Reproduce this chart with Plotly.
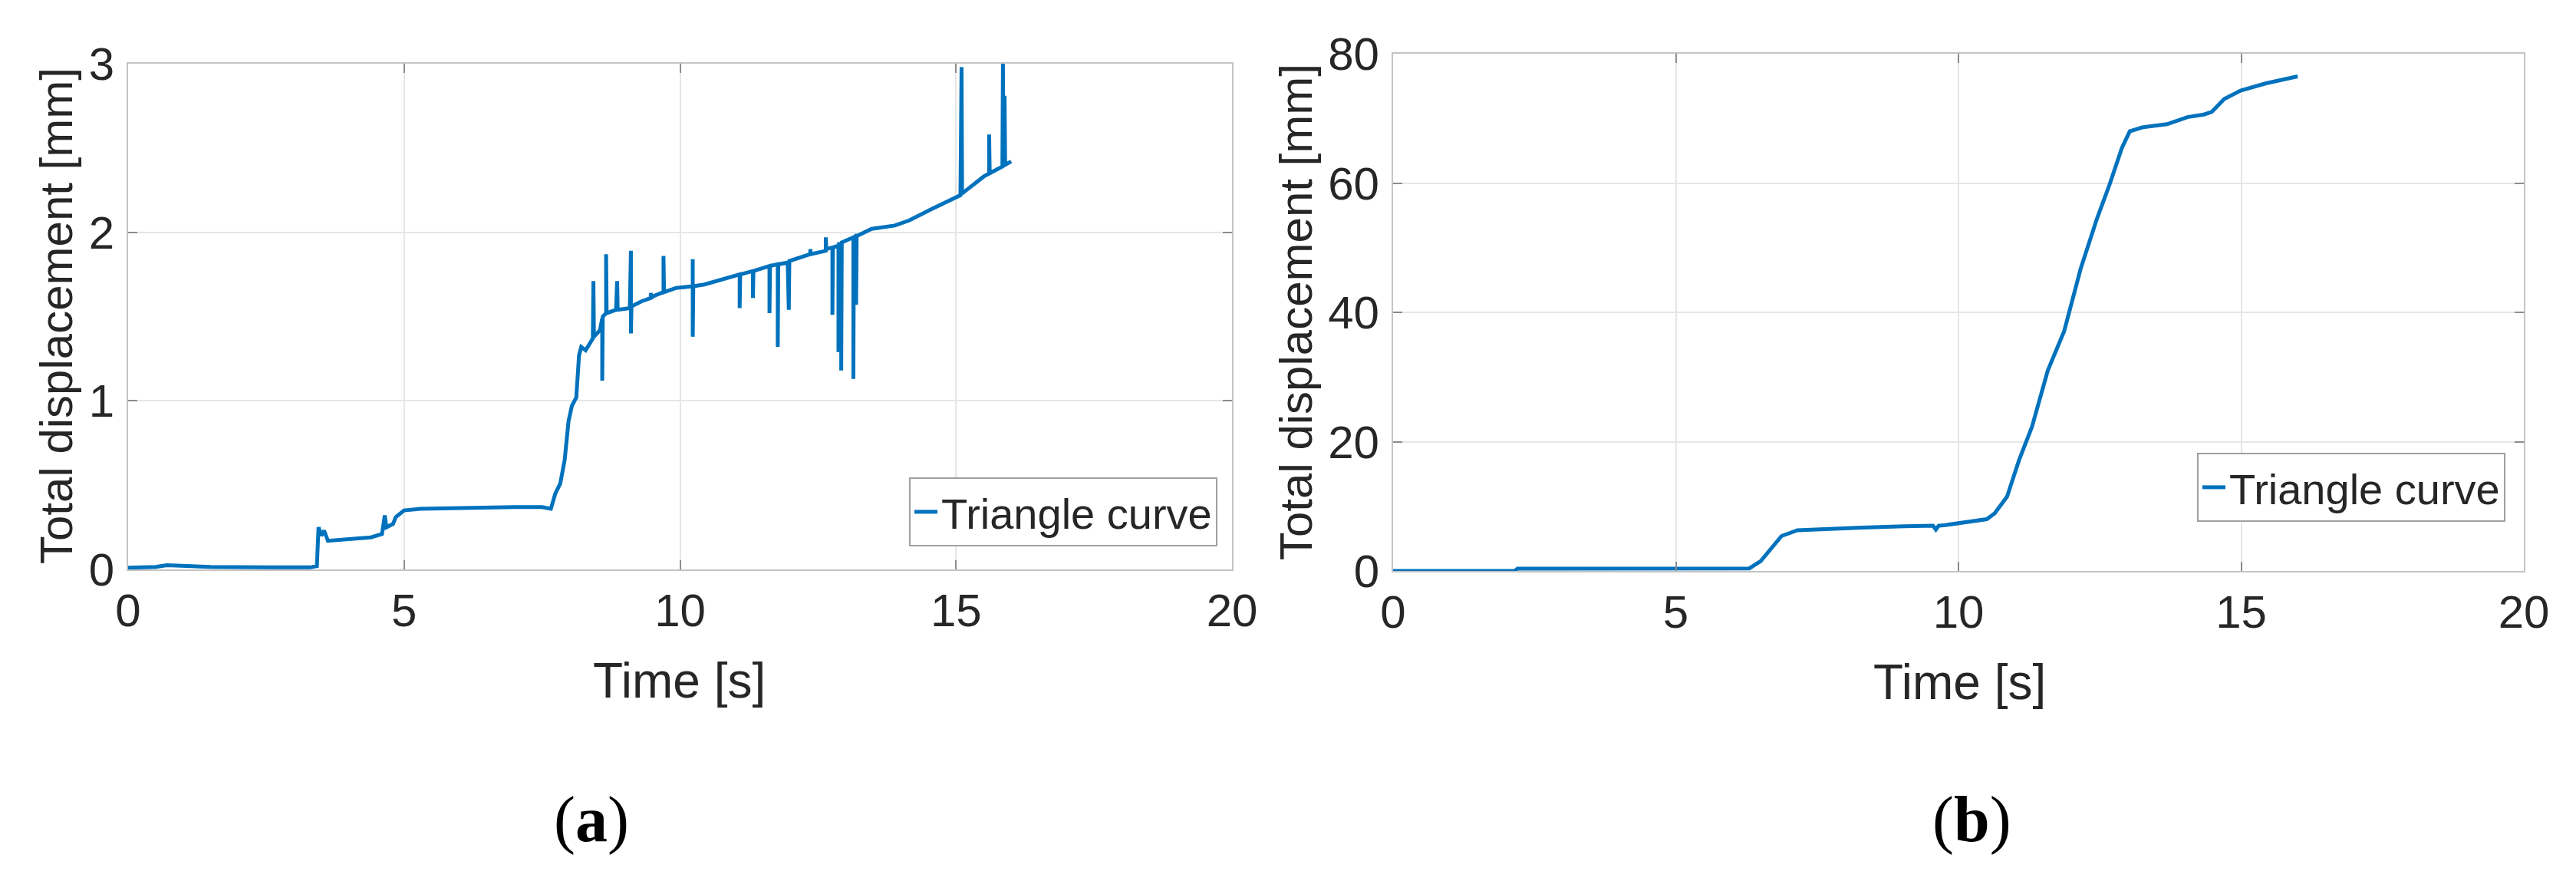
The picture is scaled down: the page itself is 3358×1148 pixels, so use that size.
import plotly.graph_objects as go
from plotly.subplots import make_subplots

# panel (a): total displacement [mm] vs time [s]
time_a = [0, 0.5, 0.7, 1.0, 1.5, 2.5, 3.3, 3.42, 3.45, 3.5, 3.55, 3.62, 4.0, 4.4, 4.6, 4.65, 4.68,
          4.8, 4.85, 5.0, 5.3, 6.0, 7.0, 7.5, 7.66, 7.74, 7.83, 7.91, 7.98, 8.04, 8.12, 8.17, 8.21,
          8.29, 8.42, 8.43, 8.44, 8.55, 8.59, 8.59, 8.6, 8.66, 8.66, 8.67, 8.84, 8.86, 8.87, 9.09,
          9.11, 9.11, 9.12, 9.3, 9.47, 9.47, 9.48, 9.51, 9.7, 9.7, 9.71, 9.93, 10.23, 10.23, 10.23,
          10.24, 10.44, 10.94, 11.08, 11.08, 11.09, 11.32, 11.32, 11.33, 11.62, 11.62, 11.63, 11.77,
          11.77, 11.78, 11.95, 11.97, 11.98, 12.29, 12.36, 12.36, 12.37, 12.64, 12.64, 12.65, 12.76,
          12.76, 12.77, 12.87, 12.87, 12.88, 12.92, 12.92, 12.93, 13.14, 13.14, 13.15, 13.19, 13.19,
          13.2, 13.22, 13.47, 13.89, 14.15, 14.57, 15.08, 15.1, 15.11, 15.5, 15.6, 15.6, 15.61,
          15.84, 15.85, 15.86, 15.88, 15.89, 16.0]
disp_a = [0.01, 0.015, 0.025, 0.02, 0.015, 0.012, 0.012, 0.02, 0.25, 0.2, 0.23, 0.17, 0.18, 0.19,
          0.21, 0.32, 0.25, 0.27, 0.31, 0.35, 0.36, 0.365, 0.37, 0.37, 0.36, 0.45, 0.51, 0.65, 0.88,
          0.97, 1.02, 1.27, 1.32, 1.30, 1.37, 1.71, 1.38, 1.42, 1.49, 1.12, 1.5, 1.52, 1.87, 1.52,
          1.54, 1.71, 1.54, 1.55, 1.89, 1.40, 1.56, 1.59, 1.61, 1.64, 1.61, 1.62, 1.645, 1.86, 1.645,
          1.67, 1.68, 1.84, 1.38, 1.68, 1.69, 1.74, 1.75, 1.55, 1.75, 1.77, 1.61, 1.77, 1.80, 1.52,
          1.80, 1.81, 1.32, 1.81, 1.82, 1.54, 1.83, 1.86, 1.87, 1.90, 1.87, 1.89, 1.97, 1.90, 1.91,
          1.51, 1.91, 1.92, 1.29, 1.93, 1.93, 1.18, 1.94, 1.97, 1.13, 1.97, 1.98, 1.57, 1.98, 1.98,
          2.02, 2.04, 2.07, 2.14, 2.22, 2.98, 2.23, 2.33, 2.35, 2.58, 2.35, 2.39, 3.0, 2.40, 2.81,
          2.40, 2.42]

# panel (b)
time_b = [0, 1.0, 2.15, 2.2, 3.5, 5.0, 6.3, 6.5, 6.87, 7.15, 7.6, 8.3, 9.04, 9.55, 9.6, 9.65,
          9.77, 10.2, 10.5, 10.64, 10.86, 11.07, 11.3, 11.58, 11.87, 12.16, 12.45, 12.67, 12.89,
          13.03, 13.25, 13.69, 14.05, 14.34, 14.48, 14.7, 14.99, 15.43, 16.0]
disp_b = [0.0, 0.0, 0.0, 0.35, 0.4, 0.4, 0.4, 1.5, 5.4, 6.3, 6.5, 6.7, 6.9, 7.0, 6.4, 7.0,
          7.1, 7.6, 8.0, 8.9, 11.5, 17.1, 22.3, 31.0, 37.1, 46.7, 54.5, 59.7, 65.4, 68.0, 68.6,
          69.1, 70.2, 70.6, 71.0, 73.0, 74.3, 75.4, 76.5]

x_ticks = [0, 5, 10, 15, 20]
series_name = 'Triangle curve'

W, H = 3358, 1148
blue = '#0072BD'
txt = '#262626'
sans = 'Liberation Sans, Arial, sans-serif'

fig = make_subplots(rows=1, cols=2)
fig.add_trace(go.Scatter(x=time_a, y=disp_a, mode='lines', name=series_name, showlegend=True,
                         line=dict(color=blue, width=5), legend='legend'), row=1, col=1)
fig.add_trace(go.Scatter(x=time_b, y=disp_b, mode='lines', name=series_name, showlegend=True,
                         line=dict(color=blue, width=5), legend='legend2'), row=1, col=2)

axis_style = dict(
    automargin=False,
    showgrid=True, gridcolor='#e6e6e6', gridwidth=2,
    showline=True, linecolor='#c4c4c4', linewidth=2, mirror='ticks',
    ticks='inside', ticklen=12, tickwidth=2, tickcolor='#8c8c8c',
    zeroline=False,
    tickfont=dict(family=sans, size=60, color=txt),
)
fig.update_xaxes(range=[0, 20], tickvals=x_ticks, ticklabelstandoff=0, **axis_style)
fig.update_yaxes(ticklabelstandoff=4, **axis_style)

legend_style = dict(xanchor='right', yanchor='bottom', bgcolor='white',
                    bordercolor='#a0a0a0', borderwidth=2, itemwidth=30,
                    font=dict(family=sans, size=56, color=txt))
fig.update_layout(
    xaxis=dict(domain=[167 / W, 1606 / W]),
    yaxis=dict(domain=[1 - 742 / H, 1 - 83 / H], range=[0, 3], tickvals=[0, 1, 2, 3]),
    xaxis2=dict(domain=[1816 / W, 3290 / W]),
    yaxis2=dict(domain=[1 - 744 / H, 1 - 70 / H], range=[0, 80], tickvals=[0, 20, 40, 60, 80]),
    width=W, height=H,
    margin=dict(l=0, r=0, t=0, b=0),
    paper_bgcolor='white', plot_bgcolor='white',
    font=dict(family=sans, color=txt),
    showlegend=True,
    legend=dict(x=1587 / W, y=1 - 712 / H, **legend_style),
    legend2=dict(x=3266 / W, y=1 - 680 / H, **legend_style),
)

# axis titles and panel labels
ann = []
for xc, yc in [(886, 887), (2554, 889)]:
    ann.append(dict(text='Time [s]', x=xc / W, y=1 - yc / H, xref='paper', yref='paper',
                    xanchor='center', yanchor='middle', showarrow=False,
                    font=dict(family=sans, size=64, color=txt)))
for xc, yc in [(74, 412), (1689, 407)]:
    ann.append(dict(text='Total displacement [mm]', x=xc / W, y=1 - yc / H, xref='paper',
                    yref='paper', xanchor='center', yanchor='middle', textangle=-90,
                    showarrow=False, font=dict(family=sans, size=60, color=txt)))
for lab, xc in [('a', 771), ('b', 2570)]:
    ann.append(dict(text='(<b>' + lab + '</b>)', x=xc / W, y=1 - 1068 / H, xref='paper',
                    yref='paper', xanchor='center', yanchor='middle', showarrow=False,
                    font=dict(family='Liberation Serif, Times New Roman, serif', size=84,
                              color='black')))
fig.update_layout(annotations=ann)

# the page's default body margin would shift the whole figure by 8px
fig.write_html("out.html", config={'displayModeBar': False},
               post_script="document.body.style.margin='0';")
